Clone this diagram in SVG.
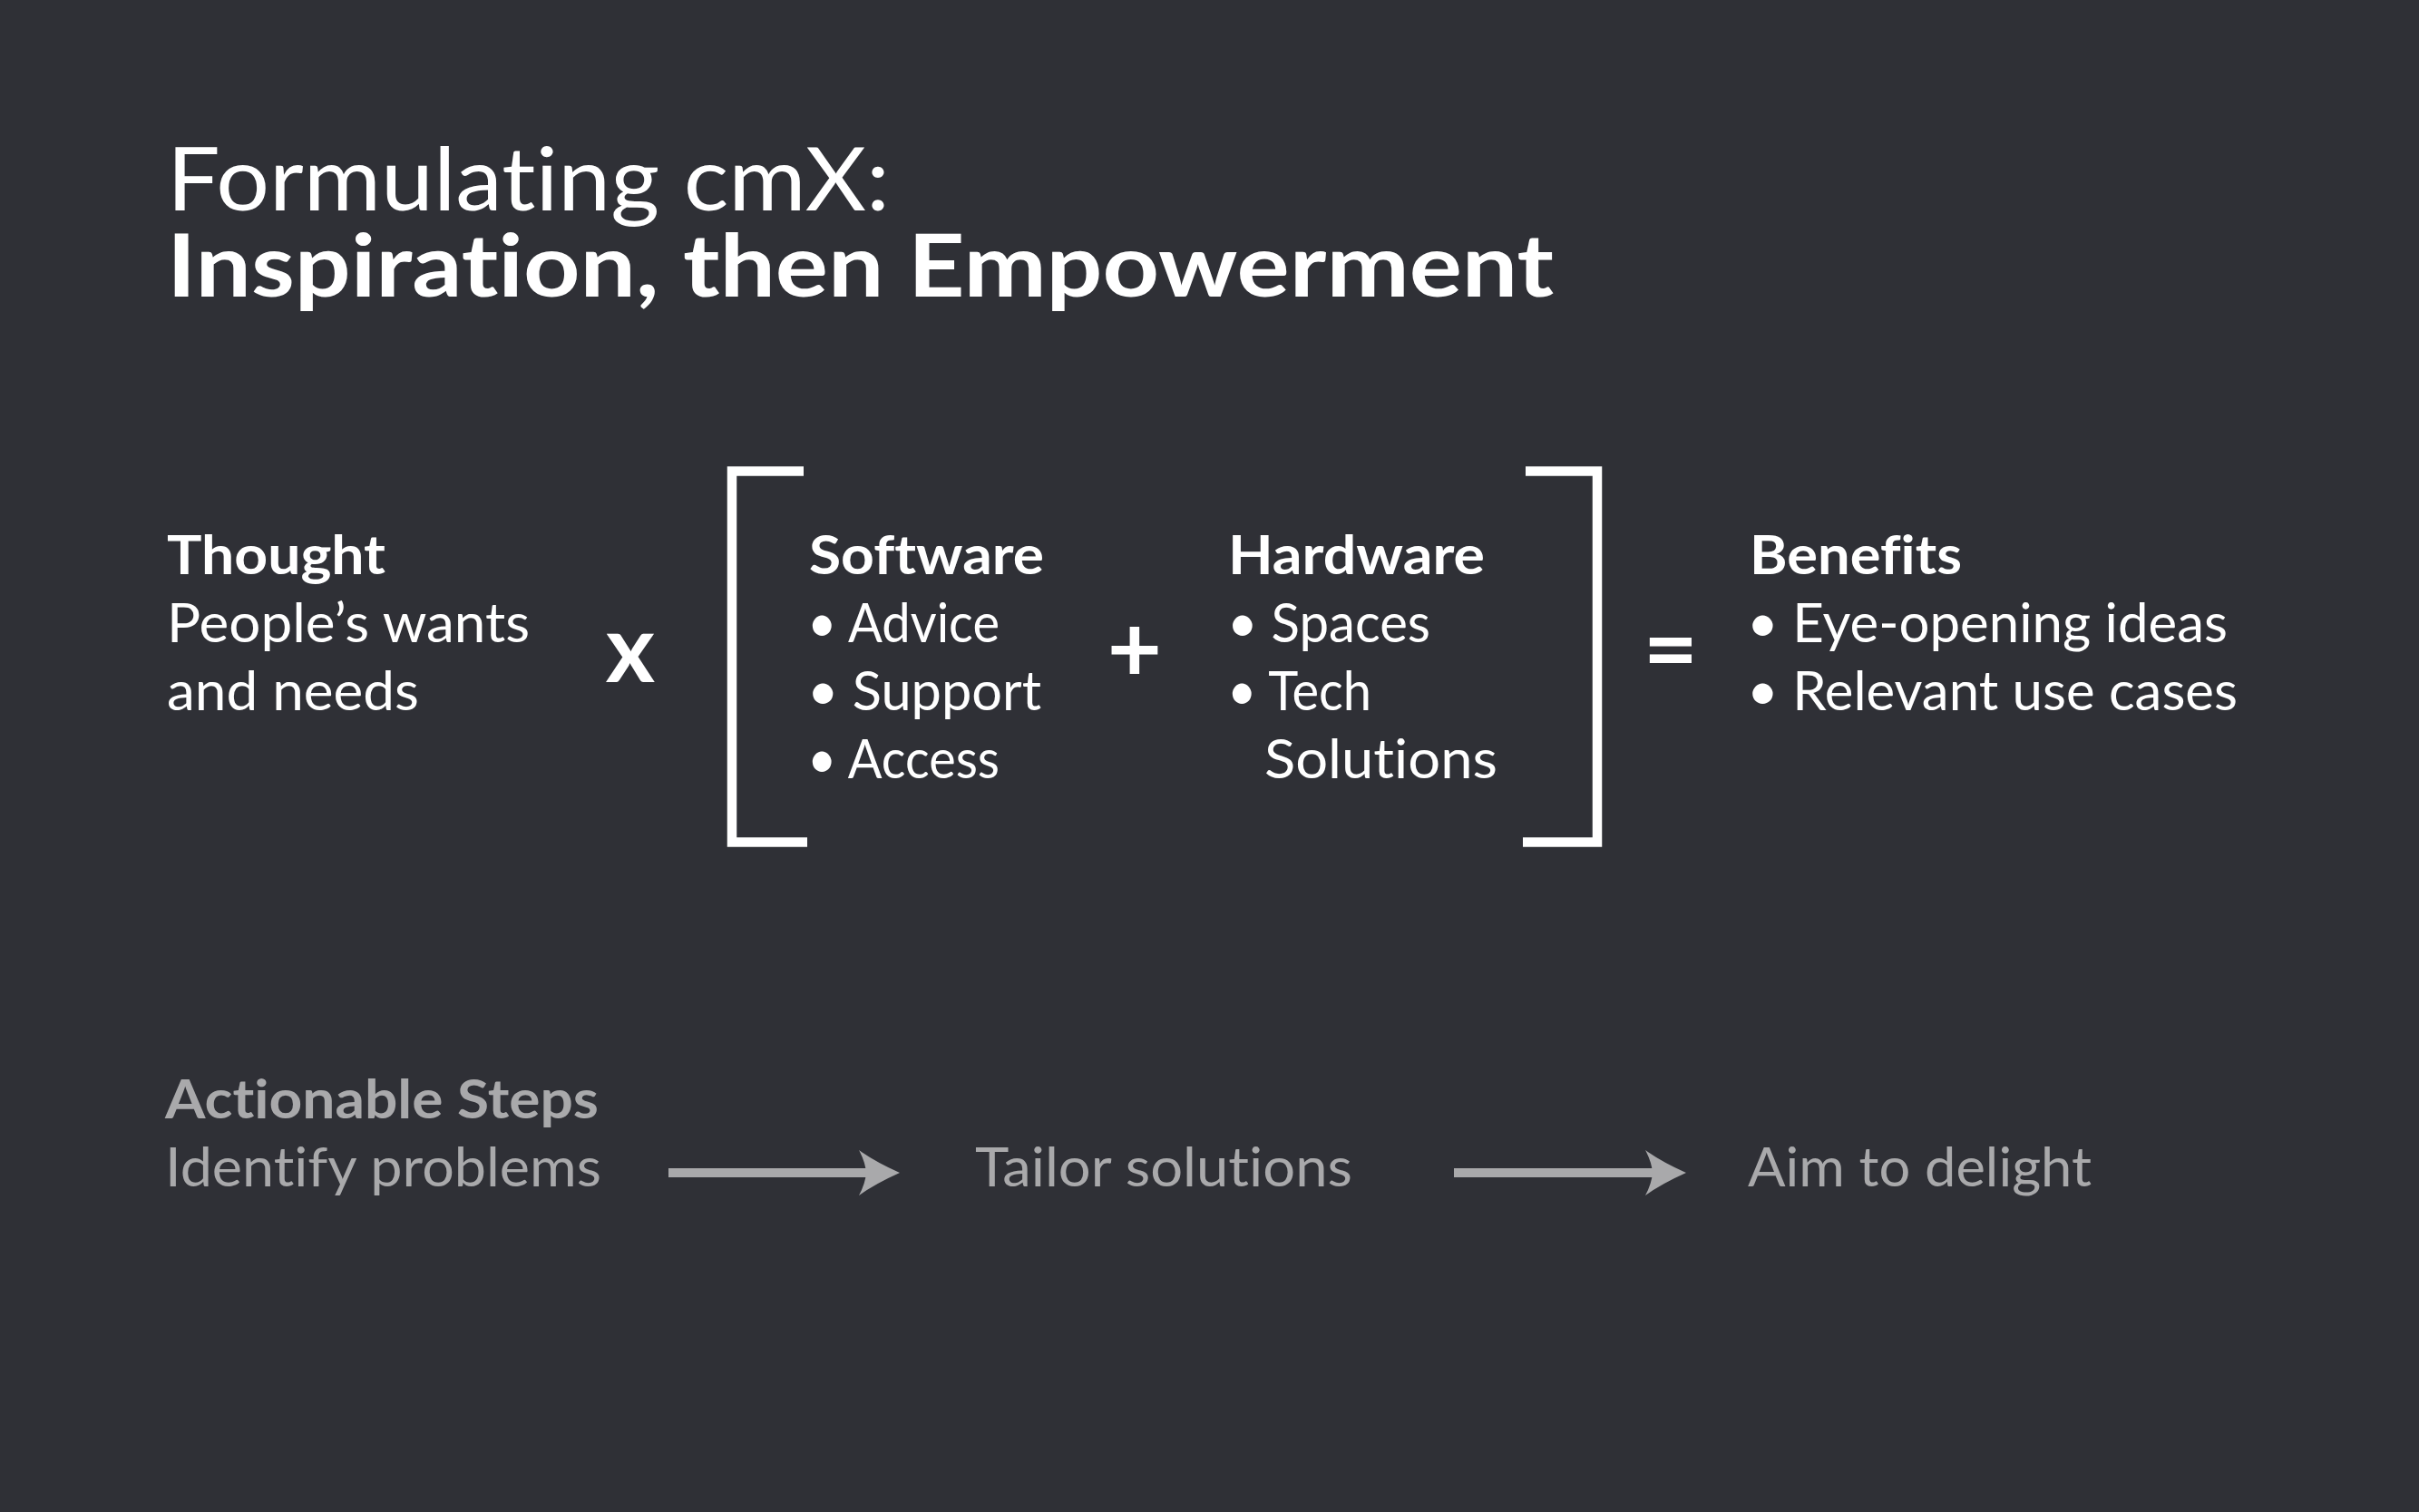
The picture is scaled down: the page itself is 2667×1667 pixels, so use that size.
<svg xmlns="http://www.w3.org/2000/svg" width="2667" height="1667" viewBox="0 0 2667 1667">
<defs>
<style>
text{font-family:"Lato","Noto Sans","Liberation Sans",sans-serif;font-variant-ligatures:none;font-feature-settings:"liga" 0,"clig" 0,"dlig" 0,"calt" 0;}
.w{fill:#ffffff;}
.g{fill:#a9a9ab;}
.t1{font-size:96px;font-weight:400;}
.t2{font-size:96px;font-weight:700;}
.b{font-size:60px;font-weight:700;}
.r{font-size:60px;font-weight:400;}
.op{font-size:104px;font-weight:700;text-anchor:middle;}
.br{fill:none;stroke:#ffffff;stroke-width:10.5;stroke-linejoin:miter;}
.arr{stroke:#a9a9ab;stroke-width:10;fill:none;}
</style>
<marker id="head" viewBox="0 0 45 50" refX="10" refY="25" markerWidth="45" markerHeight="50" markerUnits="userSpaceOnUse" orient="auto">
<path d="M45,25 Q18,13 0,0 Q7,13 8,25 Q7,37 0,50 Q18,37 45,25 Z" fill="#a9a9ab"/>
</marker>
</defs>
<rect width="2667" height="1667" fill="#2f3036"/>
<g id="title">
<text class="w"><tspan class="t1" x="184" y="232" textLength="797" lengthAdjust="spacingAndGlyphs">Formulating cmX:</tspan><tspan class="t2" x="184" y="327" textLength="1529" lengthAdjust="spacingAndGlyphs">Inspiration, then Empowerment</tspan></text>
</g>
<g id="thought">
<text class="w b" x="184" y="633" textLength="241" lengthAdjust="spacingAndGlyphs">Thought</text>
<text class="w r" x="184" y="708" textLength="400" lengthAdjust="spacingAndGlyphs">People’s wants</text>
<text class="w r" x="184" y="783" textLength="278" lengthAdjust="spacingAndGlyphs">and needs</text>
</g>
<g id="op-times"><text class="w op" x="695" y="752">x</text></g>
<g id="brackets">
<path class="br" d="M886,519.5 H807 V928.5 H890"/>
<path class="br" d="M1682,519.5 H1761 V928.5 H1679"/>
</g>
<g id="software">
<text class="w b" x="892" y="633" textLength="259" lengthAdjust="spacingAndGlyphs">Software</text>
<text class="w r" x="890" y="708" textLength="212" lengthAdjust="spacingAndGlyphs">• Advice</text>
<text class="w r" x="890" y="783" textLength="258" lengthAdjust="spacingAndGlyphs">• Support</text>
<text class="w r" x="890" y="858" textLength="212" lengthAdjust="spacingAndGlyphs">• Access</text>
</g>
<g id="op-plus"><text class="w op" x="1251" y="752">+</text></g>
<g id="hardware">
<text class="w b" x="1354" y="633" textLength="283" lengthAdjust="spacingAndGlyphs">Hardware</text>
<text class="w r" x="1353" y="708" textLength="224" lengthAdjust="spacingAndGlyphs">• Spaces</text>
<text class="w r" x="1353" y="783" textLength="159" lengthAdjust="spacingAndGlyphs">• Tech</text>
<text class="w r" x="1394" y="858" textLength="257" lengthAdjust="spacingAndGlyphs">Solutions</text>
</g>
<g id="op-equals"><text class="w op" x="1842" y="752">=</text></g>
<g id="benefits">
<text class="w b" x="1929" y="633" textLength="234" lengthAdjust="spacingAndGlyphs">Benefits</text>
<text class="w r" x="1926" y="708" textLength="530" lengthAdjust="spacingAndGlyphs">• Eye-opening ideas</text>
<text class="w r" x="1926" y="783" textLength="541" lengthAdjust="spacingAndGlyphs">• Relevant use cases</text>
</g>
<g id="step-identify">
<text class="g b" x="182" y="1233" textLength="478" lengthAdjust="spacingAndGlyphs">Actionable Steps</text>
<text class="g r" x="182" y="1308" textLength="481" lengthAdjust="spacingAndGlyphs">Identify problems</text>
</g>
<g id="step-tailor">
<text class="g r" x="1075" y="1308" textLength="416" lengthAdjust="spacingAndGlyphs">Tailor solutions</text>
</g>
<g id="step-delight">
<text class="g r" x="1927" y="1308" textLength="379" lengthAdjust="spacingAndGlyphs">Aim to delight</text>
</g>
<g id="connectors">
<line class="arr" x1="737" y1="1293" x2="957" y2="1293" marker-end="url(#head)"/>
<line class="arr" x1="1603" y1="1293" x2="1824" y2="1293" marker-end="url(#head)"/>
</g>
</svg>
